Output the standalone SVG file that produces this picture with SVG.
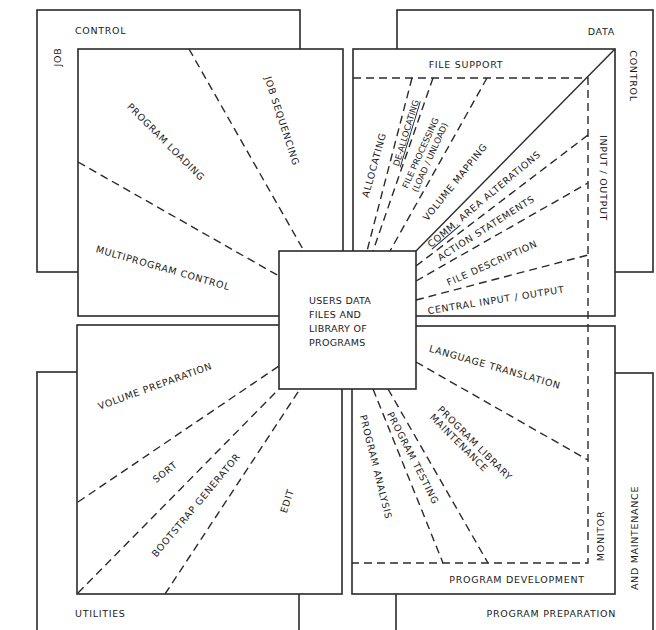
<svg xmlns="http://www.w3.org/2000/svg" width="656" height="630" viewBox="0 0 656 630">
  <style>
    .frame { fill: #ffffff; stroke: #2a2a2a; stroke-width: 1.6; }
    .solid { fill: none; stroke: #2a2a2a; stroke-width: 1.4; }
    .dash { fill: none; stroke: #2a2a2a; stroke-width: 1.4; stroke-dasharray: 8 5; }
    text { font-family: "DejaVu Sans", "Liberation Sans", sans-serif; font-size: 9.5px; fill: #1a1a1a; letter-spacing: 0.7px; }
    .c { text-anchor: middle; }
    .e { text-anchor: end; }
    .core { letter-spacing: 0.3px; }
    .tight { letter-spacing: 0.1px; }
    .small { font-size: 8.6px; letter-spacing: 0; }
    .ul { text-decoration: underline; }
  </style>
  <rect width="656" height="630" fill="#ffffff"/>

  <!-- outer category frames -->
  <g id="job-control">
    <rect class="frame" x="37" y="10" width="263" height="262"/>
    <text x="75" y="34">CONTROL</text>
    <text class="c" transform="translate(58,57) rotate(-90)" y="3.4">JOB</text>
  </g>
  <g id="data-control">
    <rect class="frame" x="397" y="10" width="256" height="262"/>
    <text class="e" x="615" y="35">DATA</text>
    <text class="c" transform="translate(633,76) rotate(90)" y="3.4">CONTROL</text>
  </g>
  <g id="utilities">
    <rect class="frame" x="37" y="372" width="262" height="270"/>
    <text x="75" y="617">UTILITIES</text>
  </g>
  <g id="monitor-maintenance">
    <rect class="frame" x="396" y="373" width="257" height="270"/>
    <text class="e" x="616" y="617">PROGRAM PREPARATION</text>
    <text class="c" transform="translate(635,538) rotate(-90)" y="3.4">AND MAINTENANCE</text>
  </g>

  <!-- inner panels -->
  <g id="panel-job">
    <rect class="frame" x="78" y="49" width="265" height="267"/>
  </g>
  <g id="panel-data">
    <rect class="frame" x="353" y="49" width="262" height="267"/>
  </g>
  <g id="panel-utilities">
    <rect class="frame" x="77" y="325" width="265" height="269"/>
  </g>
  <g id="panel-monitor">
    <rect class="frame" x="352" y="326" width="263" height="268"/>
  </g>

  <!-- connectors / dividing lines -->
  <g id="connectors">
    <!-- job control -->
    <line class="dash" x1="189" y1="49" x2="304" y2="251"/>
    <line class="dash" x1="78" y1="162" x2="279" y2="276"/>
    <!-- data control: file support block -->
    <polyline class="dash" points="353,78 588,78 588,563 352,563"/>
    <line class="dash" x1="412" y1="78" x2="367" y2="251"/>
    <line class="dash" x1="433" y1="78" x2="373" y2="251"/>
    <line class="dash" x1="487" y1="78" x2="390" y2="251"/>
    <line class="solid" x1="615" y1="49" x2="416" y2="251"/>
    <!-- data control: input/output block -->
    <line class="dash" x1="416" y1="266" x2="588" y2="135"/>
    <line class="dash" x1="416" y1="281" x2="588" y2="183"/>
    <line class="dash" x1="416" y1="300" x2="588" y2="255"/>
    <!-- utilities -->
    <line class="dash" x1="78" y1="502" x2="279" y2="366"/>
    <line class="dash" x1="78" y1="593" x2="279" y2="389"/>
    <line class="dash" x1="165" y1="594" x2="300" y2="389"/>
    <!-- monitor and maintenance -->
    <line class="dash" x1="416" y1="362" x2="588" y2="460"/>
    <line class="dash" x1="373" y1="389" x2="443" y2="563"/>
    <line class="dash" x1="388" y1="389" x2="488" y2="563"/>
  </g>

  <!-- labels inside the panels -->
  <g id="labels-job">
    <text class="c" transform="translate(282,121) rotate(72)" y="3.4">JOB SEQUENCING</text>
    <text class="c" transform="translate(166,142) rotate(45)" y="3.4">PROGRAM LOADING</text>
    <text class="c" transform="translate(163,268) rotate(16)" y="3.4">MULTIPROGRAM CONTROL</text>
  </g>
  <g id="labels-data">
    <text class="c" x="466" y="68">FILE SUPPORT</text>
    <text class="c" transform="translate(374,165) rotate(-74.5)" y="3.4">ALLOCATING</text>
    <text class="c ul small" transform="translate(406,133) rotate(-73)" y="3">DE-ALLOCATING</text>
    <g transform="translate(425,155) rotate(-65.6)">
      <text class="c small" y="-2">FILE PROCESSING</text>
      <text class="c small" y="8.5">(LOAD / UNLOAD)</text>
    </g>
    <text class="c" transform="translate(455,182) rotate(-51)" y="3.4">VOLUME MAPPING</text>
    <text class="c" transform="translate(484,199) rotate(-40)" y="3.4"><tspan class="ul">COMM.</tspan> AREA ALTERATIONS</text>
    <text class="c" transform="translate(486,228) rotate(-32.5)" y="3.4">ACTION STATEMENTS</text>
    <text class="c" transform="translate(492,263) rotate(-24)" y="3.4">FILE DESCRIPTION</text>
    <text class="c" transform="translate(496,300) rotate(-9)" y="3.4">CENTRAL INPUT / OUTPUT</text>
    <text class="c" transform="translate(603,178) rotate(90)" y="3.4">INPUT / OUTPUT</text>
  </g>
  <g id="labels-utilities">
    <text class="c" transform="translate(155,386) rotate(-20)" y="3.4">VOLUME PREPARATION</text>
    <text class="c" transform="translate(165,472) rotate(-38)" y="3.4">SORT</text>
    <text class="c" transform="translate(196,505) rotate(-50)" y="3.4">BOOTSTRAP GENERATOR</text>
    <text class="c" transform="translate(287,501) rotate(-72)" y="3.4">EDIT</text>
  </g>
  <g id="labels-monitor">
    <text class="c" transform="translate(495,367) rotate(16)" y="3.4">LANGUAGE TRANSLATION</text>
    <g transform="translate(437,410) rotate(45)">
      <text x="0" y="0">PROGRAM LIBRARY</text>
      <text x="0" y="11">MAINTENANCE</text>
    </g>
    <text class="c" transform="translate(413,458) rotate(63)" y="3.4">PROGRAM TESTING</text>
    <text class="c" transform="translate(376,467) rotate(76)" y="3.4">PROGRAM ANALYSIS</text>
    <text class="c" x="517" y="583">PROGRAM DEVELOPMENT</text>
    <text class="c" transform="translate(601,536) rotate(-90)" y="3.4">MONITOR</text>
  </g>

  <!-- central store -->
  <g id="core">
    <rect class="frame" x="279" y="251" width="137" height="138"/>
    <text class="core" x="309" y="304">USERS DATA</text>
    <text class="core" x="309" y="318">FILES AND</text>
    <text class="core" x="309" y="332">LIBRARY OF</text>
    <text class="core" x="309" y="346">PROGRAMS</text>
  </g>
</svg>
